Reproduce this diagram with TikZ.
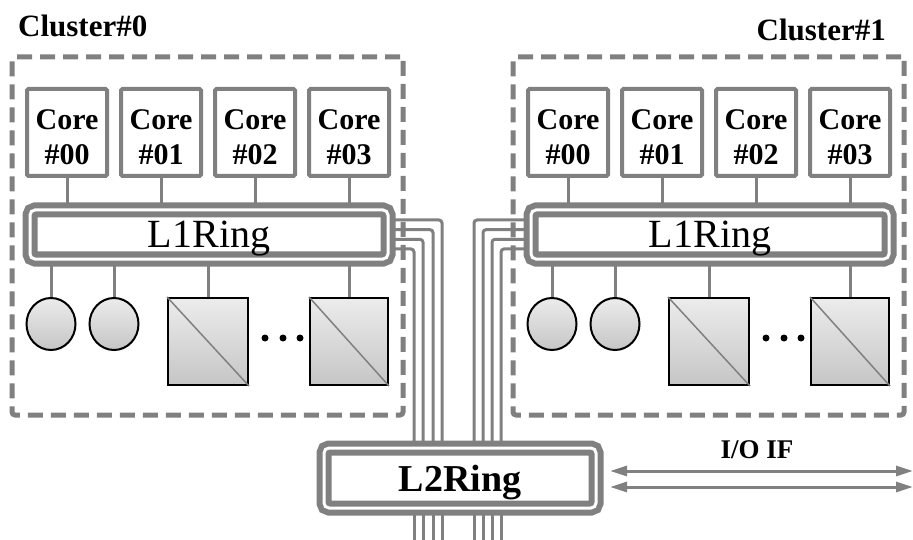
\documentclass[tikz,border=0pt]{standalone}
\usepackage{fontspec}
\setmainfont{Liberation Serif}
\usepackage{tikz}
\usetikzlibrary{arrows.meta,positioning,shapes.geometric,backgrounds}

\definecolor{wiregray}{RGB}{128,128,128}

\begin{document}
\begin{tikzpicture}[x=1pt, y=1pt,
  cluster/.style={draw=wiregray, line width=5pt, dash pattern=on 15pt off 8pt, rounded corners=3pt, minimum width=391pt, minimum height=358pt, inner sep=0pt},
  lbl/.style={font=\fontsize{31}{34}\selectfont\bfseries, inner sep=0pt},
  core/.style={draw=wiregray, line width=4pt, rounded corners=1.5pt, fill=white, align=center, minimum width=80pt, minimum height=87pt, inner sep=0pt, font=\fontsize{30}{35}\selectfont\bfseries},
  ring/.style={draw=wiregray, double=white, double distance=3pt, line width=6pt, fill=white, rounded corners=5pt, inner sep=0pt, text depth=0pt},
  disk/.style={ellipse, draw=black, line width=2pt, top color=gray!15, bottom color=gray!45, minimum width=49pt, minimum height=52pt, inner sep=0pt},
  blk/.style={rectangle, draw=black, line width=2pt, top color=gray!15, bottom color=gray!45, minimum width=80pt, minimum height=87pt, inner sep=0pt},
  link/.style={draw=wiregray, line width=3pt},
  wire/.style={draw=wiregray, line width=3pt, rounded corners=3pt},
  io/.style={draw=wiregray, line width=3pt, {Triangle[length=17pt, width=10pt]}-{Triangle[length=17pt, width=10pt]}}
]
\useasboundingbox (0,0) rectangle (913,-540);

% cluster names
\node[lbl, anchor=base west] (name0) at (18,-37) {Cluster\#0};
\node[lbl, anchor=base east] (name1) at (886,-41) {Cluster\#1};

% two identical clusters
\foreach \c/\dx in {0/0, 1/501} {
  \begin{scope}[xshift=\dx pt]
    \node[cluster] (cl\c) at (207.5,-236) {};
    \foreach \i/\x in {0/67, 1/161, 2/255, 3/349}
      \node[core] (core\c\i) at (\x,-132.5) {\rule{0pt}{29pt}Core\\\#0\i};
    \node[ring, minimum width=358pt, minimum height=49pt, font=\fontsize{40}{40}\selectfont] (ring\c) at (209,-234.5) {L1Ring};
    \node[disk] (mem\c0) at (51,-324) {};
    \node[disk] (mem\c1) at (114,-324) {};
    \node[blk] (blk\c0) at (208,-341.5) {};
    \node[blk, minimum width=78pt] (blk\c1) at (349,-341.5) {};
    \draw[wiregray, line width=1.5pt] (blk\c0.north west) -- (blk\c0.south east);
    \draw[wiregray, line width=1.5pt] (blk\c1.north west) -- (blk\c1.south east);
    \foreach \x in {265, 283, 300}
      \fill (\x,-338) circle (3.5);
    \begin{scope}[on background layer]
      \foreach \i in {0,...,3}
        \draw[link] (core\c\i) -- (core\c\i |- ring\c);
      \foreach \n in {mem\c0, mem\c1, blk\c0, blk\c1}
        \draw[link] (ring\c.center -| \n) -- (\n);
    \end{scope}
  \end{scope}
}

% second-level ring
\node[ring, minimum width=272pt, minimum height=60pt, font=\fontsize{38}{38}\selectfont\bfseries] (l2) at (460,-478) {L2Ring};

% ring-to-ring wire bundles
\coordinate (floor) at (460,-540);
\begin{scope}[on background layer]
  \foreach \dy/\dx in {14.5/-18, 4.8/-27, -4.8/-37, -14.5/-46}
    \draw[wire] ([yshift=\dy pt]ring0.east) -| ([xshift=\dx pt]l2.center);
  \foreach \dy/\dx in {14.5/14, 4.8/23, -4.8/32, -14.5/41}
    \draw[wire] ([yshift=\dy pt]ring1.west) -| ([xshift=\dx pt]l2.center);
  \foreach \dx in {-46, -37, -27, -18, 14, 23, 32, 41}
    \draw[wire] ([xshift=\dx pt]l2.center) -- ([xshift=\dx pt]l2.center |- floor);
\end{scope}

% external I/O
\coordinate (ioA) at (913,-471);
\coordinate (ioB) at (913,-487);
\draw[io] ([xshift=11pt]l2.east |- ioA) -- (ioA);
\draw[io] ([xshift=11pt]l2.east |- ioB) -- (ioB);
\node[font=\fontsize{27}{30}\selectfont\bfseries] (iolbl) at (757,-450) {I/O IF};
\end{tikzpicture}
\end{document}
